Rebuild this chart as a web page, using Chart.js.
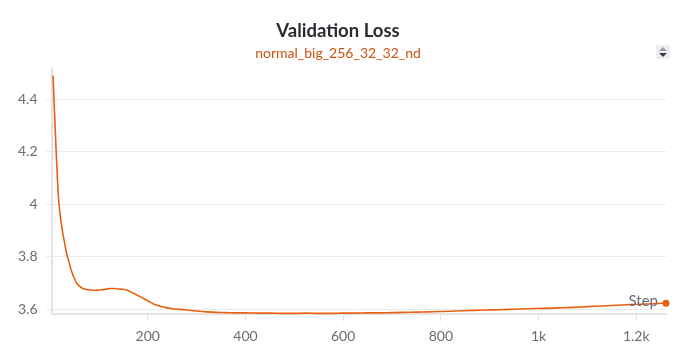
<!DOCTYPE html>
<html>
<head>
<meta charset="utf-8">
<script src="https://cdn.jsdelivr.net/npm/chart.js@4.4.1/dist/chart.umd.min.js"></script>
<style>
  body { margin: 0; background: #fff; }
  #wrap { position: relative; width: 690px; height: 362px; }
  #sorter { position: absolute; left: 656px; top: 45px; width: 14px; height: 14px; background: #eeeef0; border-radius: 2px; }
  #sorter .up, #sorter .down { position: absolute; left: 3px; width: 0; height: 0; border-left: 4px solid transparent; border-right: 4px solid transparent; }
  #sorter .up { top: 2px; border-bottom: 4px solid #9a9aa2; }
  #sorter .down { top: 8px; border-top: 4px solid #3a3a44; }
</style>
</head>
<body>
<div id="wrap">
  <canvas id="lossChart" width="690" height="362"></canvas>
  <div id="sorter"><div class="up"></div><div class="down"></div></div>
</div>
<script>
const runName = "normal_big_256_32_32_nd";
const steps = [6, 8, 10, 12, 13, 15, 17, 20, 23, 26, 30, 34, 38, 43, 48, 54, 60, 67, 75, 83, 92, 100, 108, 116, 124, 132, 140, 148, 156, 164, 172, 180, 188, 196, 204, 212, 220, 230, 240, 250, 262, 275, 290, 305, 320, 340, 360, 380, 400, 425, 450, 475, 500, 525, 550, 575, 600, 625, 650, 675, 700, 725, 750, 775, 800, 830, 860, 890, 920, 950, 980, 1010, 1040, 1070, 1100, 1130, 1160, 1190, 1220, 1245, 1261];
const loss = [4.49, 4.40, 4.31, 4.22, 4.18, 4.10, 4.03, 3.97, 3.925, 3.89, 3.85, 3.81, 3.785, 3.75, 3.725, 3.70, 3.688, 3.679, 3.675, 3.673, 3.672, 3.673, 3.674, 3.677, 3.679, 3.679, 3.677, 3.676, 3.673, 3.667, 3.660, 3.652, 3.644, 3.636, 3.628, 3.620, 3.615, 3.609, 3.605, 3.602, 3.600, 3.598, 3.595, 3.592, 3.590, 3.588, 3.587, 3.586, 3.586, 3.585, 3.585, 3.584, 3.584, 3.585, 3.584, 3.584, 3.585, 3.585, 3.586, 3.586, 3.587, 3.588, 3.589, 3.590, 3.591, 3.593, 3.595, 3.597, 3.598, 3.600, 3.602, 3.603, 3.605, 3.607, 3.610, 3.612, 3.615, 3.618, 3.620, 3.622, 3.623];
const xTicks = [200, 400, 600, 800, 1000, 1200];
const xTickLabels = ["200", "400", "600", "800", "1k", "1.2k"];
const yTicks = [3.6, 3.8, 4.0, 4.2, 4.4];
const yTickLabels = ["3.6", "3.8", "4", "4.2", "4.4"];

const lineColor = "#e8600f";
const tickColor = "#6b6b76";
const fontFam = "Lato, 'Open Sans', sans-serif";

const stepLabel = {
    id: "stepLabel",
    afterDatasetsDraw(chart) {
        const ctx = chart.ctx, a = chart.chartArea;
        ctx.save();
        ctx.font = "15px " + fontFam;
        ctx.fillStyle = tickColor;
        ctx.textAlign = "right";
        ctx.textBaseline = "alphabetic";
        ctx.fillText("Step", a.right - 8, a.bottom - 8);
        ctx.restore();
    }
};

const ctx = document.getElementById("lossChart").getContext("2d");
new Chart(ctx, {
    type: "line",
    data: {
        datasets: [{
            label: runName,
            data: steps.map((s, i) => ({ x: s, y: loss[i] })),
            borderColor: lineColor,
            backgroundColor: lineColor,
            borderWidth: 1.6,
            cubicInterpolationMode: "monotone",
            pointRadius: c => (c.dataIndex === steps.length - 1 ? 3.5 : 0),
            pointBorderWidth: 0,
            fill: false,
            clip: false
        }]
    },
    options: {
        responsive: false,
        animation: false,
        layout: { padding: { left: 10, right: 24, top: 20, bottom: 10 } },
        plugins: {
            legend: { display: false },
            tooltip: { enabled: false },
            title: {
                display: true,
                text: "Validation Loss",
                color: "#2b2b33",
                font: { family: fontFam, size: 18.5, weight: "bold" },
                padding: { top: 0, bottom: 3 }
            },
            subtitle: {
                display: true,
                text: runName,
                color: "#cf5210",
                font: { family: fontFam, size: 14 },
                padding: { top: 0, bottom: 7 }
            }
        },
        scales: {
            x: {
                type: "linear",
                min: 3,
                max: 1261,
                afterBuildTicks: s => { s.ticks = xTicks.map(v => ({ value: v })); },
                ticks: {
                    color: tickColor,
                    font: { family: fontFam, size: 14 },
                    padding: 7,
                    maxRotation: 0,
                    callback: (v, i) => xTickLabels[i]
                },
                grid: { drawOnChartArea: false, drawTicks: true, tickLength: 7, color: "#e4e4e6" },
                border: { color: "#e4e4e6", width: 2 }
            },
            y: {
                min: 3.581,
                max: 4.515,
                afterBuildTicks: s => { s.ticks = yTicks.map(v => ({ value: v })); },
                ticks: {
                    color: tickColor,
                    font: { family: fontFam, size: 14 },
                    padding: 8,
                    callback: (v, i) => yTickLabels[i]
                },
                grid: { color: "#ebebed", tickLength: 6 },
                border: { color: "#e4e4e6", width: 2 }
            }
        }
    },
    plugins: [stepLabel]
});
</script>
</body>
</html>
